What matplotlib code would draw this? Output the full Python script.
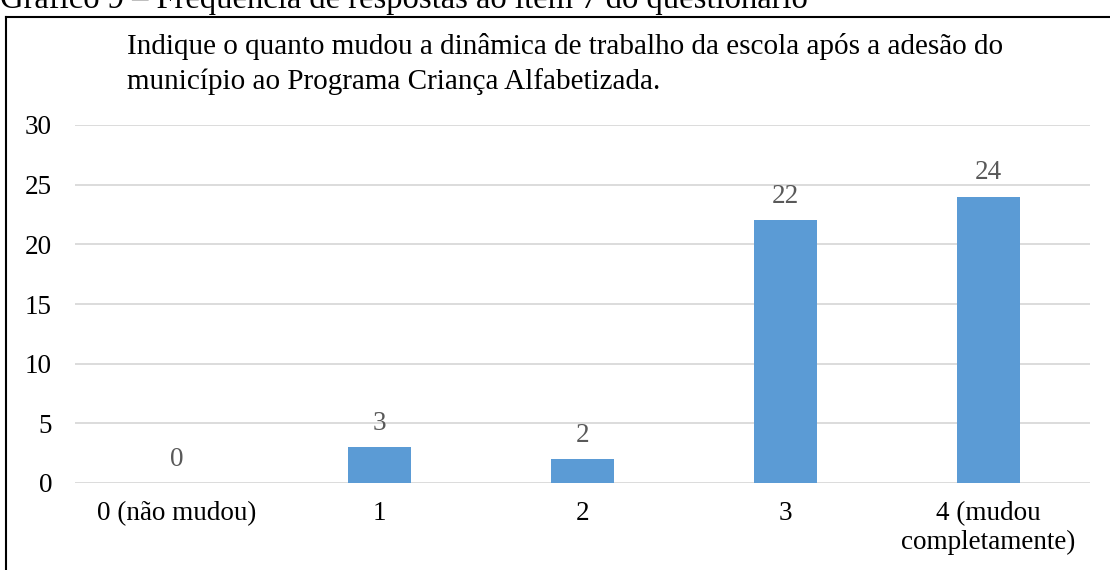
import matplotlib
matplotlib.use('Agg')
import matplotlib.pyplot as plt
from matplotlib.lines import Line2D

# data
categorias = ['0 (não mudou)', '1', '2', '3', '4 (mudou\ncompletamente)']
respostas = [0, 3, 2, 22, 24]
titulo = 'Indique o quanto mudou a dinâmica de trabalho da escola após a adesão do\nmunicípio ao Programa Criança Alfabetizada.'
legenda_doc = 'Gráfico 9 – Frequência de respostas ao item 7 do questionário'

plt.rcParams['font.family'] = ['Liberation Serif', 'DejaVu Serif']

W, H = 1110, 570
fig = plt.figure(figsize=(W / 100, H / 100), dpi=100)
fig.patch.set_facecolor('white')

# caption of the document, cut off at the top of the screenshot
fig.text(0 / W, 1 - 8 / H, legenda_doc, fontsize=23.5, ha='left', va='baseline')

# frame around the chart (cut at right and bottom)
fig.add_artist(Line2D([6 / W, 6 / W], [-0.1, 1 - 17 / H], color='black', lw=1.5, transform=fig.transFigure))
fig.add_artist(Line2D([6 / W, 1.1], [1 - 17 / H, 1 - 17 / H], color='black', lw=1.5, transform=fig.transFigure))

ax = fig.add_axes([75 / W, (H - 483) / H, 1015 / W, 358 / H])
x = range(len(categorias))
ax.bar(x, respostas, width=0.315, color='#5b9bd5', zorder=3)

ax.set_xlim(-0.5, len(categorias) - 0.5)
ax.set_ylim(0, 30)
ax.set_yticks(range(0, 31, 5))
ax.yaxis.grid(True, color='#d9d9d9', lw=1.3, zorder=0)
for s in ax.spines.values():
    s.set_visible(False)
ax.tick_params(axis='both', length=0, labelsize=19.5)
ax.tick_params(axis='y', pad=16.5)
ax.tick_params(axis='x', pad=13)
ax.set_xticks(list(x))
ax.set_xticklabels(categorias, linespacing=1.2)

for i, v in enumerate(respostas):
    ax.annotate(str(v), (i, v), xytext=(0, 17), textcoords='offset points',
                ha='center', va='center', fontsize=19.5, color='#595959')

fig.text(127 / W, 1 - 64 / H, titulo, fontsize=21, ha='left', va='center', linespacing=1.35)

plt.savefig('out.png', dpi=100)
